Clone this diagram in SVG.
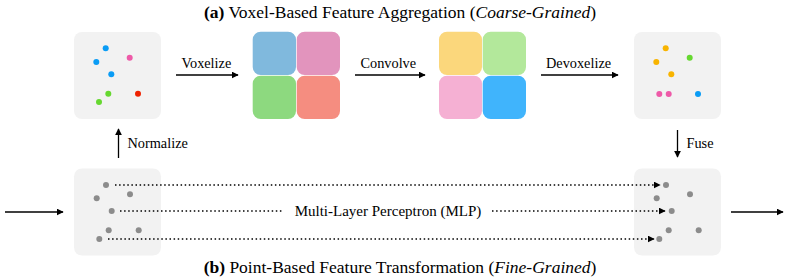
<svg xmlns="http://www.w3.org/2000/svg" width="789" height="279" viewBox="0 0 789 279" font-family="'Liberation Serif', 'Times New Roman', serif">
<defs>
<style>
text{font-family:'Liberation Serif','Times New Roman',serif;fill:#000}
.lbl{font-size:14.3px}
.ttl{font-size:17.5px}
.box{fill:#f2f2f2}
.arr{stroke:#000;stroke-width:1.3;fill:none;marker-end:url(#ah)}
.dot{stroke:#000;stroke-width:1.6;fill:none;stroke-dasharray:1.5 2.6}
.dota{stroke:#000;stroke-width:1.6;fill:none;stroke-dasharray:1.5 2.6;marker-end:url(#ah2)}
.g{fill:#8c8c8c}
</style>
<marker id="ah" viewBox="0 0 10 10" refX="9" refY="5" markerWidth="7" markerHeight="7" markerUnits="userSpaceOnUse" orient="auto"><path d="M0,0L10,5L0,10z" fill="#000"/></marker>
<marker id="ah2" viewBox="0 0 10 10" refX="9" refY="5" markerWidth="7" markerHeight="7" markerUnits="userSpaceOnUse" orient="auto"><path d="M0,0L10,5L0,10z" fill="#000"/></marker>
</defs>
<rect width="789" height="279" fill="#fff"/>
<text class="ttl" x="400" y="18" text-anchor="middle" font-family="'Liberation Serif', serif"><tspan font-weight="bold">(a)</tspan> Voxel-Based Feature Aggregation (<tspan font-style="italic">Coarse-Grained</tspan>)</text>
<text class="ttl" x="400" y="273" text-anchor="middle" font-family="'Liberation Serif', serif"><tspan font-weight="bold">(b)</tspan> Point-Based Feature Transformation (<tspan font-style="italic">Fine-Grained</tspan>)</text>

<g id="input-points">
<rect class="box" x="74" y="32" width="87" height="87" rx="8"/>
<circle cx="105.7" cy="48.3" r="3" fill="#0a9cf5"/>
<circle cx="129.7" cy="57.7" r="3" fill="#ee5aa8"/>
<circle cx="96.3" cy="62" r="3" fill="#0a9cf5"/>
<circle cx="111.3" cy="74.3" r="3" fill="#0a9cf5"/>
<circle cx="108.3" cy="93.7" r="3" fill="#66d830"/>
<circle cx="138" cy="93.7" r="3" fill="#ee2200"/>
<circle cx="99" cy="102" r="3" fill="#66d830"/>
</g>

<g id="voxels">
<rect x="252.7" y="31.7" width="43.3" height="43.3" rx="8" fill="#80b9dd"/>
<rect x="296.7" y="31.7" width="43.3" height="43.3" rx="8" fill="#e294bd"/>
<rect x="252.7" y="75.7" width="43.3" height="43.3" rx="8" fill="#8dd97f"/>
<rect x="296.7" y="75.7" width="43.3" height="43.3" rx="8" fill="#f58d80"/>
</g>

<g id="conv-voxels">
<rect x="439" y="31.7" width="43" height="43.3" rx="8" fill="#fbd77c"/>
<rect x="482.7" y="31.7" width="43.3" height="43.3" rx="8" fill="#b3e89b"/>
<rect x="439" y="75.7" width="43" height="43.3" rx="8" fill="#f5b0d3"/>
<rect x="482.7" y="75.7" width="43.3" height="43.3" rx="8" fill="#40b4fc"/>
</g>

<g id="output-points">
<rect class="box" x="634" y="32" width="87" height="87" rx="8"/>
<circle cx="665.7" cy="48.3" r="3" fill="#f8b400"/>
<circle cx="689.7" cy="57.7" r="3" fill="#66d830"/>
<circle cx="656.3" cy="62" r="3" fill="#f8b400"/>
<circle cx="671.3" cy="74.3" r="3" fill="#f8b400"/>
<circle cx="659.3" cy="94" r="3" fill="#ee5aa8"/>
<circle cx="668.7" cy="94" r="3" fill="#ee5aa8"/>
<circle cx="698" cy="94" r="3" fill="#0a9cf5"/>
</g>

<g id="mlp-input">
<rect class="box" x="74" y="168.5" width="87" height="87" rx="8"/>
<circle class="g" cx="106" cy="185" r="3"/>
<circle class="g" cx="130" cy="194.3" r="3"/>
<circle class="g" cx="96.7" cy="198.3" r="3"/>
<circle class="g" cx="111.7" cy="211" r="3"/>
<circle class="g" cx="108.7" cy="230.3" r="3"/>
<circle class="g" cx="138.7" cy="230.3" r="3"/>
<circle class="g" cx="99.3" cy="239" r="3"/>
</g>

<g id="mlp-output">
<rect class="box" x="634" y="168.5" width="87" height="87" rx="8"/>
<circle class="g" cx="666" cy="185" r="3"/>
<circle class="g" cx="690" cy="194.3" r="3"/>
<circle class="g" cx="656.7" cy="198.3" r="3"/>
<circle class="g" cx="671.7" cy="211" r="3"/>
<circle class="g" cx="668.7" cy="230.3" r="3"/>
<circle class="g" cx="698.7" cy="230.3" r="3"/>
<circle class="g" cx="659.3" cy="239" r="3"/>
</g>

<g id="connectors">
<line class="arr" x1="176" y1="75" x2="238" y2="75"/>
<text class="lbl" x="181.5" y="67.5">Voxelize</text>
<line class="arr" x1="355" y1="75" x2="425" y2="75"/>
<text class="lbl" x="360.5" y="67.5">Convolve</text>
<line class="arr" x1="541" y1="75" x2="618" y2="75"/>
<text class="lbl" x="546" y="67.5">Devoxelize</text>
<line class="arr" x1="118.5" y1="158" x2="118.5" y2="129"/>
<text class="lbl" x="127.5" y="148">Normalize</text>
<line class="arr" x1="677.5" y1="130" x2="677.5" y2="157"/>
<text class="lbl" x="686.5" y="148">Fuse</text>
<line class="arr" x1="5" y1="212" x2="63" y2="212"/>
<line class="arr" x1="731" y1="212" x2="783" y2="212"/>
<line class="dota" x1="115" y1="185" x2="660" y2="185"/>
<line class="dot" x1="120" y1="211" x2="284" y2="211"/>
<line class="dota" x1="492" y1="211" x2="665" y2="211"/>
<line class="dota" x1="108" y1="239" x2="654" y2="239"/>
<text x="388" y="216" text-anchor="middle" font-size="15">Multi-Layer Perceptron (MLP)</text>
</g>
</svg>
